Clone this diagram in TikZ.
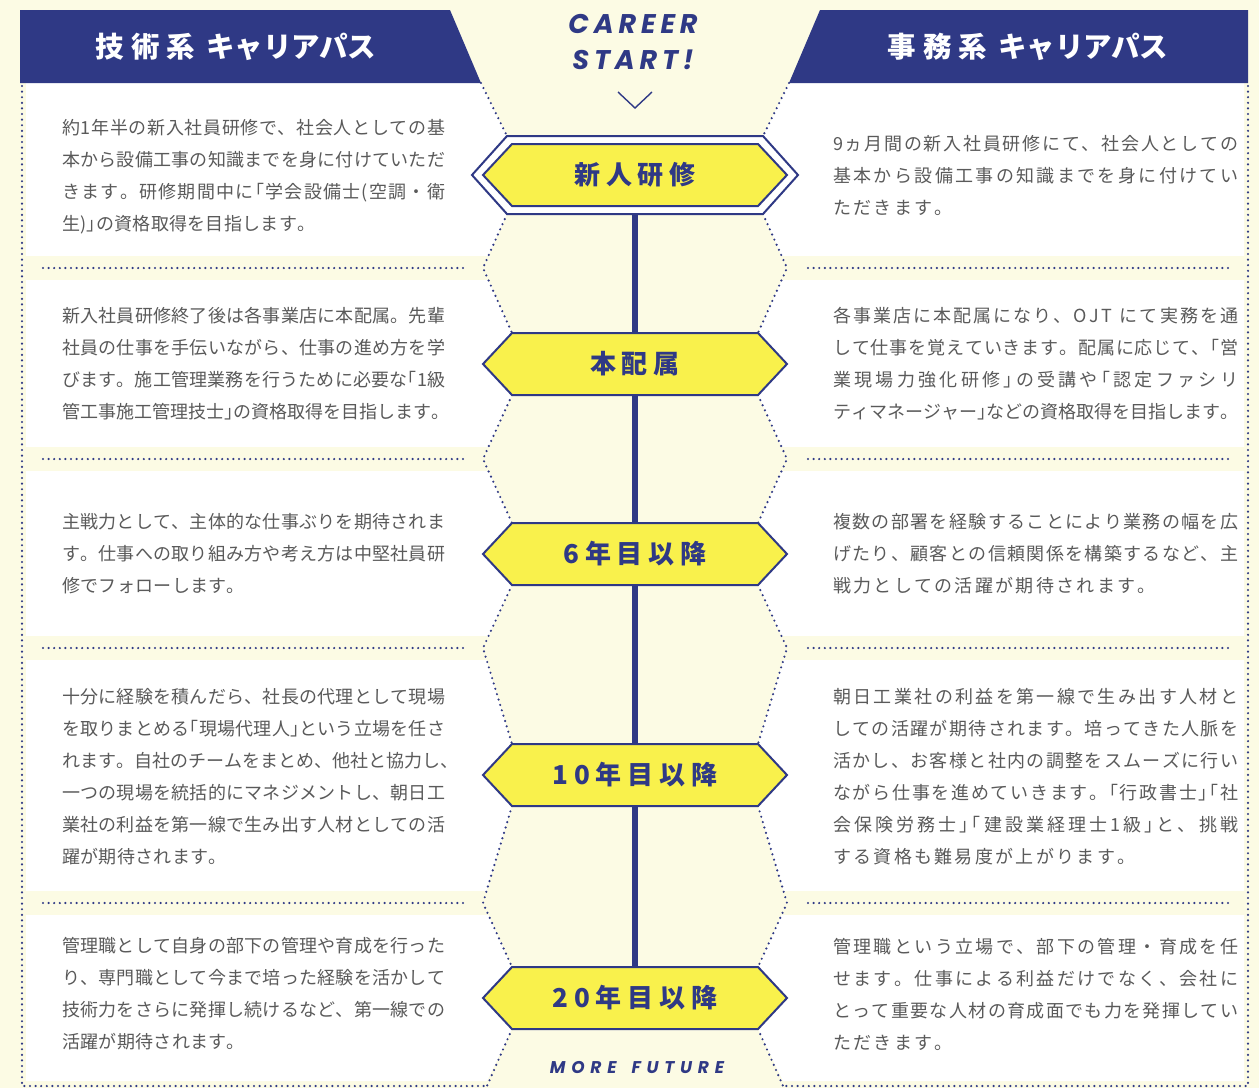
\documentclass[tikz,border=0pt]{standalone}
\usepackage{fontspec}
\setmainfont{Noto Sans CJK JP}
\newfontfamily\cjk{Noto Sans CJK JP}
\newfontfamily\cjkh[RawFeature=+halt]{Noto Sans CJK JP}
\newfontfamily\cjkhex[LetterSpace=22]{Noto Sans CJK JP}
\newfontfamily\enA[LetterSpace=18]{Poppins}
\newfontfamily\enB[LetterSpace=34]{Poppins}
\definecolor{cream}{HTML}{FCFBE4}
\definecolor{navy}{HTML}{2F3985}
\definecolor{hexy}{HTML}{F9F14C}
\definecolor{txt}{HTML}{5A5A5A}
\newdimen\jtrack \newdimen\jw
\def\jend{\relax\relax JEND}
\def\jrest#1{\ifx\jend#1\else\hskip\jtrack plus 1fil minus\jtrack\relax#1\expandafter\jrest\fi}
\def\jfirst#1{#1\jrest}
\newcommand\F[1]{\hbox to\jw{\jfirst#1\jend}}
\newcommand\E[1]{\hbox{\jfirst#1\jend}}
\def\lb{{\cjkh 「}}
\def\rb{{\cjkh 」}}
\newcommand\hexa[1]{\filldraw[hexs] (483,#1) -- (512,{#1-31}) -- (758,{#1-31}) -- (787,#1) -- (758,{#1+31}) -- (512,{#1+31}) -- cycle;}
\begin{document}
\begin{tikzpicture}[x=1pt,y=-1pt,
  dots/.style={draw=navy, line width=2.4pt, line cap=round, dash pattern=on 0pt off 5.6pt},
  hexs/.style={fill=hexy, draw=navy, line width=2pt, line join=miter},
  vline/.style={draw=navy, line width=6pt},
  blk/.style={inner sep=0pt, anchor=west, text=txt, font=\cjk\fontsize{18}{32}\selectfont},
  hlab/.style={inner sep=0pt, minimum width=280pt, minimum height=62pt, text=navy, font=\cjkhex\bfseries\fontsize{26}{30}\selectfont},
  head/.style={inner sep=0pt, text=white, font=\cjk\bfseries\fontsize{28.5}{30}\selectfont},
  en/.style={inner sep=0pt, text=navy, font=\enA\bfseries\itshape\fontsize{27}{30}\selectfont},
  enb/.style={inner sep=0pt, text=navy, font=\enB\bfseries\itshape\fontsize{17}{20}\selectfont}]
% background
\fill[cream] (0,0) rectangle (1259,1088);
% white panels
\fill[white] (26,83) -- (481,83) -- (507,136) -- (472,175) -- (507,214) -- (483,268) -- (512,333) -- (483,364) -- (512,395) -- (483,459) -- (512,523) -- (483,554) -- (512,585) -- (483,648) -- (512,744) -- (483,775) -- (512,806) -- (483,903) -- (512,967) -- (483,998) -- (512,1029) -- (487,1081) -- (26,1081) -- cycle;
\fill[white] (1244,83) -- (789,83) -- (763,136) -- (798,175) -- (763,214) -- (787,268) -- (758,333) -- (787,364) -- (758,395) -- (787,459) -- (758,523) -- (787,554) -- (758,585) -- (787,648) -- (758,744) -- (787,775) -- (758,806) -- (787,903) -- (758,967) -- (787,998) -- (758,1029) -- (783,1081) -- (1244,1081) -- cycle;
% cream bands at separators
\foreach \s in {268,459,648,903} {
  \fill[cream] (24,{\s-12}) rectangle (500,{\s+12});
  \fill[cream] (770,{\s-12}) rectangle (1246,{\s+12});
  \draw[dots] (43,\s) -- (463,\s);
  \draw[dots] (808,\s) -- (1228,\s);
}
% headers
\fill[navy] (20,10) -- (450,10) -- (481,83) -- (20,83) -- cycle;
\fill[navy] (820,10) -- (1248,10) -- (1248,83) -- (789,83) -- cycle;
\node[head] (hl) at (236,47) {技\hspace{7pt}術\hspace{7pt}系\hspace{11pt}キャリアパス};
\node[head] (hr) at (1028,47) {事\hspace{7pt}務\hspace{7pt}系\hspace{11pt}キャリアパス};
% outer borders
\draw[dots] (22,86) -- (22,1086) -- (487,1086);
\draw[dots] (1248,86) -- (1248,1086) -- (783,1086);
% zigzag left
\draw[dots] (481,83) -- (507,136);
\draw[dots] (507,214) -- (483,268) -- (512,333);
\draw[dots] (512,395) -- (483,459) -- (512,523);
\draw[dots] (512,585) -- (483,648) -- (512,744);
\draw[dots] (512,806) -- (483,903) -- (512,967);
\draw[dots] (512,1029) -- (487,1086);
% zigzag right
\draw[dots] (789,83) -- (763,136);
\draw[dots] (763,214) -- (787,268) -- (758,333);
\draw[dots] (758,395) -- (787,459) -- (758,523);
\draw[dots] (758,585) -- (787,648) -- (758,744);
\draw[dots] (758,806) -- (787,903) -- (758,967);
\draw[dots] (758,1029) -- (783,1086);
% career start
\node[en] (c1) at (633,24) {CAREER};
\node[en] (c2) at (633,60) {START!};
\draw[navy, line width=1.4pt] (618,92) -- (635,108) -- (652,92);
\node[enb] (mf) at (637,1067) {MORE\hspace{15pt}FUTURE};
% hexagons
\filldraw[fill=white, draw=navy, line width=2pt] (472,175) -- (507,136) -- (763,136) -- (798,175) -- (763,214) -- (507,214) -- cycle;
\hexa{175}
\hexa{364}
\hexa{554}
\hexa{775}
\hexa{998}
\node[hlab, minimum height=78pt] (h1) at (635,175) {新人研修};
\node[hlab] (h2) at (635,364) {本配属};
\node[hlab] (h3) at (635,554) {6年目以降};
\node[hlab] (h4) at (635,775) {10年目以降};
\node[hlab] (h5) at (635,998) {20年目以降};
\draw[vline] (h1.south) -- (h2.north);
\draw[vline] (h2.south) -- (h3.north);
\draw[vline] (h3.south) -- (h4.north);
\draw[vline] (h4.south) -- (h5.north);
% left texts
\node[blk] (tl1) at (62,177) {\jw=383pt\jtrack=0.3pt\vbox{\baselineskip=32pt\lineskiplimit=-40pt
\F{約1年半の新入社員研修で、社会人としての基}
\F{本から設備工事の知識までを身に付けていただ}
\F{きます。研修期間中に\lb 学会設備士(空調・衛}
\E{生)\rb の資格取得を目指します。}}};
\node[blk] (tl2) at (62,364) {\jw=383pt\jtrack=0.3pt\vbox{\baselineskip=32pt\lineskiplimit=-40pt
\F{新入社員研修終了後は各事業店に本配属。先輩}
\F{社員の仕事を手伝いながら、仕事の進め方を学}
\F{びます。施工管理業務を行うために必要な\lb 1級}
\F{管工事施工管理技士\rb の資格取得を目指します。}}};
\node[blk] (tl3) at (62,554) {\jw=383pt\jtrack=0.3pt\vbox{\baselineskip=32pt\lineskiplimit=-40pt
\F{主戦力として、主体的な仕事ぶりを期待されま}
\F{す。仕事への取り組み方や考え方は中堅社員研}
\E{修でフォローします。}}};
\node[blk] (tl4) at (62,777) {\jw=383pt\jtrack=0.3pt\vbox{\baselineskip=32pt\lineskiplimit=-40pt
\F{十分に経験を積んだら、社長の代理として現場}
\F{を取りまとめる\lb 現場代理人\rb という立場を任さ}
\F{れます。自社のチームをまとめ、他社と協力し、}
\F{一つの現場を統括的にマネジメントし、朝日工}
\F{業社の利益を第一線で生み出す人材としての活}
\E{躍が期待されます。}}};
\node[blk] (tl5) at (62,994) {\jw=383pt\jtrack=0.3pt\vbox{\baselineskip=32pt\lineskiplimit=-40pt
\F{管理職として自身の部下の管理や育成を行った}
\F{り、専門職として今まで培った経験を活かして}
\F{技術力をさらに発揮し続けるなど、第一線での}
\E{活躍が期待されます。}}};
% right texts
\node[blk] (tr1) at (833,175) {\jw=405pt\jtrack=2.3pt\vbox{\baselineskip=32pt\lineskiplimit=-40pt
\F{9ヵ月間の新入社員研修にて、社会人としての}
\F{基本から設備工事の知識までを身に付けてい}
\E{ただきます。}}};
\node[blk] (tr2) at (833,364) {\jw=405pt\jtrack=2.3pt\vbox{\baselineskip=32pt\lineskiplimit=-40pt
\F{各事業店に本配属になり、OJT~にて実務を通}
\F{して仕事を覚えていきます。配属に応じて、\lb 営}
\F{業現場力強化研修\rb の受講や\lb 認定ファシリ}
\F{ティマネージャー\rb などの資格取得を目指します。}}};
\node[blk] (tr3) at (833,554) {\jw=405pt\jtrack=2.3pt\vbox{\baselineskip=32pt\lineskiplimit=-40pt
\F{複数の部署を経験することにより業務の幅を広}
\F{げたり、顧客との信頼関係を構築するなど、主}
\E{戦力としての活躍が期待されます。}}};
\node[blk] (tr4) at (833,777) {\jw=405pt\jtrack=2.3pt\vbox{\baselineskip=32pt\lineskiplimit=-40pt
\F{朝日工業社の利益を第一線で生み出す人材と}
\F{しての活躍が期待されます。培ってきた人脈を}
\F{活かし、お客様と社内の調整をスムーズに行い}
\F{ながら仕事を進めていきます。\lb 行政書士\rb\lb 社}
\F{会保険労務士\rb\lb 建設業経理士1級\rb と、挑戦}
\E{する資格も難易度が上がります。}}};
\node[blk] (tr5) at (833,994) {\jw=405pt\jtrack=2.3pt\vbox{\baselineskip=32pt\lineskiplimit=-40pt
\F{管理職という立場で、部下の管理・育成を任}
\F{せます。仕事による利益だけでなく、会社に}
\F{とって重要な人材の育成面でも力を発揮してい}
\E{ただきます。}}};
\end{tikzpicture}
\end{document}
